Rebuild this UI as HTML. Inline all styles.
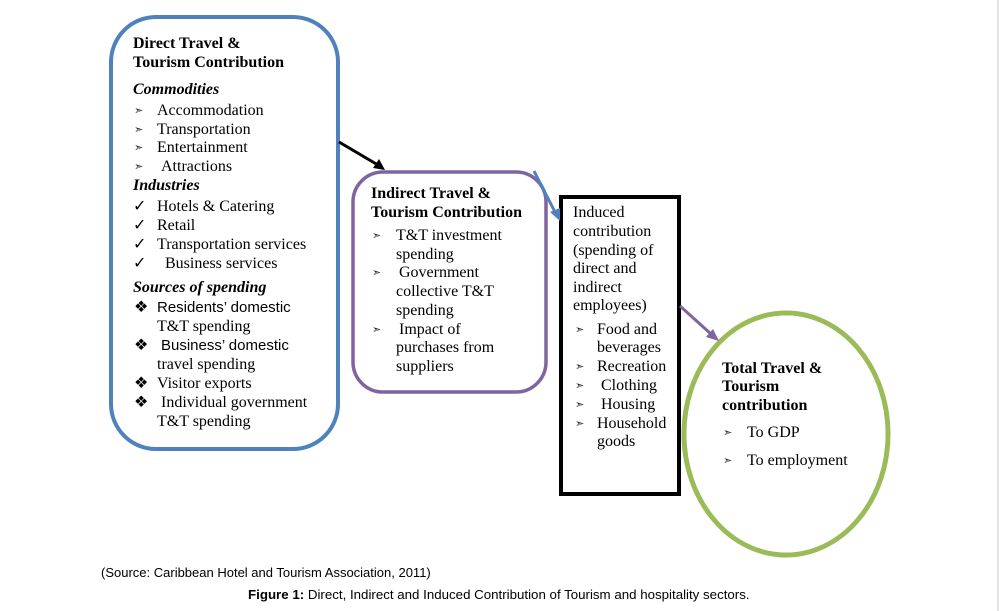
<!DOCTYPE html>
<html><head><meta charset="utf-8"><style>
html,body{margin:0;padding:0;background:#fff;}
#c{position:relative;width:1000px;height:611px;overflow:hidden;font-family:"Liberation Serif",serif;font-size:16px;color:#000;}
.t{position:absolute;white-space:nowrap;line-height:20px;}
.b{font-weight:bold;}
.i{font-style:italic;font-weight:bold;}
.s{font-family:"Liberation Sans",sans-serif;font-size:15px;}
.bu{position:absolute;white-space:nowrap;line-height:20px;font-size:11px;color:#222;}
.cap{position:absolute;white-space:nowrap;font-family:"Liberation Sans",sans-serif;font-size:13px;}
</style></head><body><div id="c">
<svg width="1000" height="611" style="position:absolute;left:0;top:0">
<line x1="998" y1="0" x2="998" y2="611" stroke="#c8c8c8" stroke-width="1"/>
<rect x="111" y="17" width="227" height="432" rx="45" fill="none" stroke="#4f81bd" stroke-width="4"/>
<rect x="353" y="172" width="193" height="220" rx="30" fill="none" stroke="#8064a2" stroke-width="3.5"/>
<rect x="561" y="197" width="118" height="297" fill="none" stroke="#000" stroke-width="4"/>
<ellipse cx="786" cy="434" rx="102" ry="121" fill="none" stroke="#9bbb59" stroke-width="5"/>
<ellipse cx="786" cy="434" rx="99" ry="118" fill="none" stroke="#fff" stroke-width="1"/>
<line x1="339" y1="142" x2="378" y2="165" stroke="#000" stroke-width="3"/>
<path d="M385,170 L373,168 L379,159 z" fill="#000"/>
<line x1="534" y1="171" x2="555" y2="212" stroke="#4f81bd" stroke-width="3"/>
<path d="M560,221 L550,212 L560,208 z" fill="#4f81bd"/>
<line x1="680" y1="306" x2="711" y2="334" stroke="#8064a2" stroke-width="3"/>
<path d="M719,341 L706,337 L713,329 z" fill="#8064a2"/>
</svg>

<div class="t b" style="left:133px;top:34px">Direct Travel &amp;</div>
<div class="t b" style="left:133px;top:53px">Tourism Contribution</div>
<div class="t i" style="left:133px;top:80px">Commodities</div>
<div class="bu" style="left:134px;top:101px">➣</div><div class="t" style="left:157px;top:101px">Accommodation</div>
<div class="bu" style="left:134px;top:120px">➣</div><div class="t" style="left:157px;top:120px">Transportation</div>
<div class="bu" style="left:134px;top:138px">➣</div><div class="t" style="left:157px;top:138px">Entertainment</div>
<div class="bu" style="left:134px;top:157px">➣</div><div class="t" style="left:161px;top:157px">Attractions</div>
<div class="t i" style="left:133px;top:176px">Industries</div>
<div class="t" style="left:133px;top:197px">✓</div><div class="t" style="left:157px;top:197px">Hotels &amp; Catering</div>
<div class="t" style="left:133px;top:216px">✓</div><div class="t" style="left:157px;top:216px">Retail</div>
<div class="t" style="left:133px;top:235px">✓</div><div class="t" style="left:157px;top:235px">Transportation services</div>
<div class="t" style="left:133px;top:254px">✓</div><div class="t" style="left:165px;top:254px">Business services</div>
<div class="t i" style="left:133px;top:278px">Sources of spending</div>
<div class="t" style="left:134px;top:298px">❖</div><div class="t s" style="left:157px;top:298px">Residents’ domestic</div>
<div class="t" style="left:157px;top:317px">T&amp;T spending</div>
<div class="t" style="left:134px;top:336px">❖</div><div class="t s" style="left:161px;top:336px">Business’ domestic</div>
<div class="t" style="left:157px;top:355px">travel spending</div>
<div class="t" style="left:134px;top:374px">❖</div><div class="t" style="left:157px;top:374px">Visitor exports</div>
<div class="t" style="left:134px;top:393px">❖</div><div class="t" style="left:161px;top:393px">Individual government</div>
<div class="t" style="left:157px;top:412px">T&amp;T spending</div>

<div class="t b" style="left:371px;top:184px">Indirect Travel &amp;</div>
<div class="t b" style="left:371px;top:203px">Tourism Contribution</div>
<div class="bu" style="left:372px;top:226px">➣</div><div class="t" style="left:396px;top:226px">T&amp;T investment</div>
<div class="t" style="left:396px;top:245px">spending</div>
<div class="bu" style="left:372px;top:263px">➣</div><div class="t" style="left:399px;top:263px">Government</div>
<div class="t" style="left:396px;top:282px">collective T&amp;T</div>
<div class="t" style="left:396px;top:301px">spending</div>
<div class="bu" style="left:372px;top:320px">➣</div><div class="t" style="left:399px;top:320px">Impact of</div>
<div class="t" style="left:396px;top:338px">purchases from</div>
<div class="t" style="left:396px;top:357px">suppliers</div>

<div class="t" style="left:573px;top:203px">Induced</div>
<div class="t" style="left:573px;top:222px">contribution</div>
<div class="t" style="left:573px;top:241px">(spending of</div>
<div class="t" style="left:573px;top:259px">direct and</div>
<div class="t" style="left:573px;top:278px">indirect</div>
<div class="t" style="left:573px;top:296px">employees)</div>
<div class="bu" style="left:575px;top:320px">➣</div><div class="t" style="left:597px;top:320px">Food and</div>
<div class="t" style="left:597px;top:338px">beverages</div>
<div class="bu" style="left:575px;top:357px">➣</div><div class="t" style="left:597px;top:357px">Recreation</div>
<div class="bu" style="left:575px;top:376px">➣</div><div class="t" style="left:601px;top:376px">Clothing</div>
<div class="bu" style="left:575px;top:395px">➣</div><div class="t" style="left:601px;top:395px">Housing</div>
<div class="bu" style="left:575px;top:414px">➣</div><div class="t" style="left:597px;top:414px">Household</div>
<div class="t" style="left:597px;top:432px">goods</div>

<div class="t b" style="left:722px;top:359px">Total Travel &amp;</div>
<div class="t b" style="left:722px;top:377px">Tourism</div>
<div class="t b" style="left:722px;top:396px">contribution</div>
<div class="bu" style="left:723px;top:423px">➣</div><div class="t" style="left:747px;top:423px">To GDP</div>
<div class="bu" style="left:723px;top:451px">➣</div><div class="t" style="left:747px;top:451px">To employment</div>

<div class="cap" style="left:101px;top:565px">(Source: Caribbean Hotel and Tourism Association, 2011)</div>
<div class="cap" style="left:248px;top:587px;font-size:13.3px"><b>Figure 1:</b> Direct, Indirect and Induced Contribution of Tourism and hospitality sectors.</div>
</div></body></html>
